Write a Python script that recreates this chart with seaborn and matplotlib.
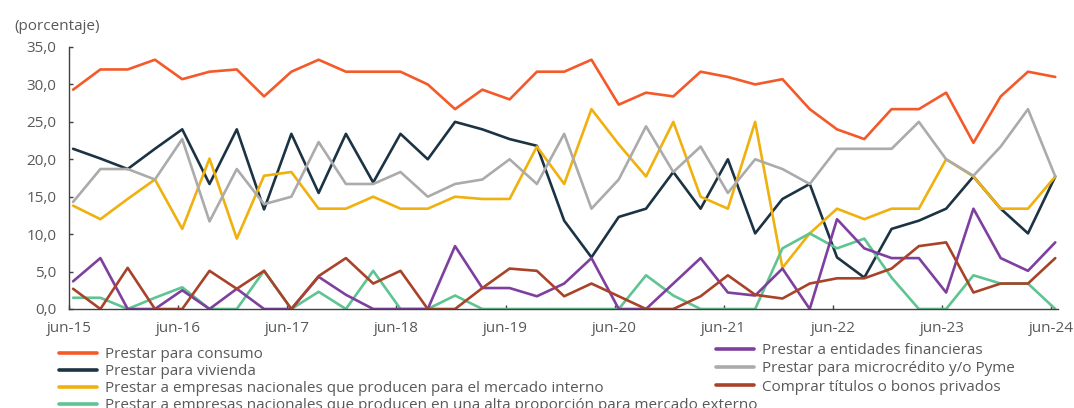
import numpy as np
import pandas as pd
import matplotlib
matplotlib.use("Agg")
import matplotlib.pyplot as plt
import seaborn as sns
from matplotlib.lines import Line2D

# ---------------- data ----------------
years = ["15", "16", "17", "18", "19", "20", "21", "22", "23", "24"]
tick_labels = ["jun-" + y for y in years]

consumo = [29.3, 32.0, 32.0, 33.3, 30.7, 31.7, 32.0, 28.4, 31.7, 33.3, 31.7,
           31.7, 31.7, 30.0, 26.7, 29.3, 28.0, 31.7, 31.7, 33.3, 27.3, 28.9, 28.4, 31.7,
           31.0, 30.0, 30.7, 26.7, 24.0, 22.7, 26.7, 26.7, 28.9, 22.2, 28.4, 31.7, 31.0]
vivienda = [21.4, 20.1, 18.7, 21.4, 24.0, 16.7, 24.0, 13.3, 23.4, 15.5, 23.4,
            16.9, 23.4, 20.0, 25.0, 24.0, 22.7, 21.8, 11.8, 6.9, 12.3, 13.4, 18.3, 13.4,
            20.0, 10.1, 14.7, 16.7, 6.9, 4.2, 10.7, 11.8, 13.4, 17.7, 13.4, 10.1, 17.7]
interno = [13.8, 12.0, 14.7, 17.3, 10.7, 20.1, 9.4, 17.8, 18.3, 13.4, 13.4,
           15.0, 13.4, 13.4, 15.0, 14.7, 14.7, 21.7, 16.7, 26.7, 22.0, 17.7, 25.0, 15.0,
           13.4, 25.0, 5.5, 10.1, 13.4, 12.0, 13.4, 13.4, 20.0, 17.7, 13.4, 13.4, 17.7]
externo = [1.5, 1.5, 0.0, 1.5, 2.9, 0.0, 0.0, 5.1, 0.0, 2.3, 0.0,
           5.1, 0.0, 0.0, 1.8, 0.0, 0.0, 0.0, 0.0, 0.0, 0.0, 4.5, 1.8, 0.0,
           0.0, 0.0, 8.1, 10.1, 8.1, 9.4, 4.2, 0.0, 0.0, 4.5, 3.4, 3.4, 0.0]
entidades = [3.7, 6.8, 0.0, 0.0, 2.5, 0.0, 2.7, 0.0, 0.0, 4.3, 1.9,
             0.0, 0.0, 0.0, 8.4, 2.8, 2.8, 1.7, 3.4, 6.8, 0.0, 0.0, 3.4, 6.8,
             2.2, 1.8, 5.4, 0.0, 12.0, 8.1, 6.8, 6.8, 2.2, 13.4, 6.8, 5.1, 8.9]
micro = [14.3, 18.7, 18.7, 17.3, 22.7, 11.7, 18.7, 14.0, 15.0, 22.3, 16.7,
         16.7, 18.3, 15.0, 16.7, 17.3, 20.0, 16.7, 23.4, 13.4, 17.3, 24.4, 18.3, 21.7,
         15.5, 20.0, 18.7, 16.7, 21.4, 21.4, 21.4, 25.0, 20.0, 17.8, 21.7, 26.7, 17.7]
titulos = [2.7, 0.0, 5.5, 0.0, 0.0, 5.1, 2.7, 5.1, 0.0, 4.4, 6.8,
           3.4, 5.1, 0.0, 0.0, 2.8, 5.4, 5.1, 1.7, 3.4, 1.7, 0.0, 0.0, 1.7,
           4.5, 1.9, 1.4, 3.4, 4.1, 4.1, 5.4, 8.4, 8.9, 2.2, 3.4, 3.4, 6.8]

series_names = [
    "Prestar para consumo",
    "Prestar para vivienda",
    "Prestar a empresas nacionales que producen para el mercado interno",
    "Prestar a empresas nacionales que producen en una alta proporción para mercado externo",
    "Prestar a entidades financieras",
    "Prestar para microcrédito y/o Pyme",
    "Comprar títulos o bonos privados",
]
series_values = [consumo, vivienda, interno, externo, entidades, micro, titulos]
colors = ["#F4592A", "#1C3344", "#F0B10E", "#5EC492", "#7E3F9E", "#ABABAB", "#A8432A"]

# ---------------- build frame ----------------
n = len(consumo)
frames = []
for name, vals in zip(series_names, series_values):
    frames.append(pd.DataFrame({"t": np.arange(n), "valor": vals, "serie": name}))
df = pd.concat(frames, ignore_index=True)

# ---------------- plotting ----------------
sns.set_theme(style="white")
plt.rcParams["font.family"] = ["Open Sans", "DejaVu Sans"]
text_color = "#595959"

fig = plt.figure(figsize=(10.74, 4.08), dpi=100)
ax = fig.add_axes([69 / 1074, 1 - 309 / 408, (1058 - 69) / 1074, (309 - 47) / 408])

palette = dict(zip(series_names, colors))
sns.lineplot(data=df, x="t", y="valor", hue="serie", hue_order=series_names,
             palette=palette, linewidth=1.9, legend=False, ax=ax)

ax.set_xlim(-0.1, n - 1 + 0.1)
ax.set_ylim(0, 35)
ax.set_yticks(np.arange(0, 35.1, 5))
ax.set_yticklabels([f"{v:.1f}".replace(".", ",") for v in np.arange(0, 35.1, 5)])
# category-style ticks sit slightly left of the data points
ax.set_xticks(np.arange(0, n, 4) - 0.15)
ax.set_xticklabels(tick_labels)
ax.set_xlabel("")
ax.set_ylabel("")

for s in ["top", "right"]:
    ax.spines[s].set_visible(False)
for s in ["left", "bottom"]:
    ax.spines[s].set_color("#404040")
    ax.spines[s].set_linewidth(1.0)

ax.tick_params(axis="y", direction="in", length=3, width=1, color="#404040",
               labelsize=11, labelcolor=text_color, pad=9, left=True)
ax.tick_params(axis="x", direction="in", length=3, width=1, color="#404040",
               labelsize=11, labelcolor=text_color, pad=9, bottom=True)

fig.text(14 / 1074, 1 - 27 / 408, "(porcentaje)", fontsize=11, color=text_color,
         va="center", ha="left")

# ---------------- legends ----------------
handles = [Line2D([0], [0], color=c, lw=2.6) for c in colors]
common = dict(frameon=False, fontsize=11, handlelength=2.5, handletextpad=0.5,
              borderpad=0, borderaxespad=0, labelcolor=text_color)
fig.legend(handles[:4], series_names[:4], loc="upper left", labelspacing=0.13,
           bbox_to_anchor=(59 / 1074, 1 - 347 / 408), **common)
fig.legend(handles[4:], series_names[4:], loc="upper left", labelspacing=0.22,
           bbox_to_anchor=(716 / 1074, 1 - 343 / 408), **common)

fig.savefig("out.png", dpi=100)
